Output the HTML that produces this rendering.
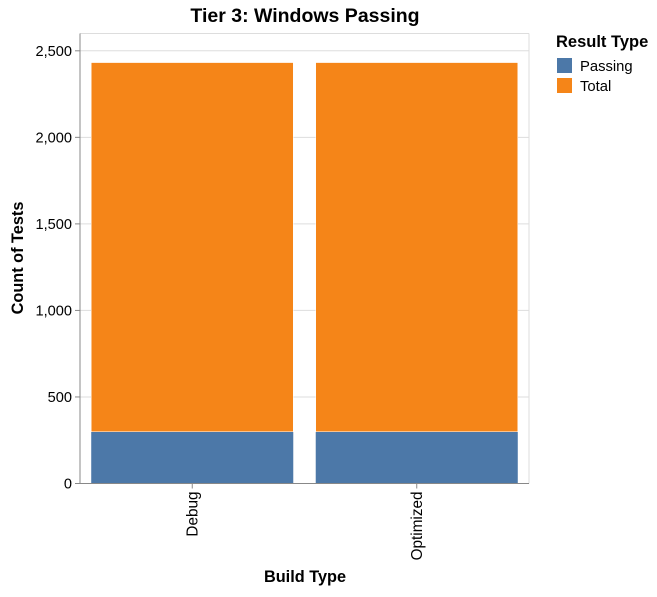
<!DOCTYPE html>
<html><head><meta charset="utf-8"><style>
body{margin:0;background:#fff;font-family:"Liberation Sans",sans-serif;}
text{font-family:"Liberation Sans",sans-serif;}
</style></head><body>
<svg id="chart" width="657" height="592" xmlns="http://www.w3.org/2000/svg">
<rect width="657" height="592" fill="#fff"/>
<text x="305" y="22" text-anchor="middle" font-size="19.5" font-weight="bold">Tier 3: Windows Passing</text>
<g id="grid"></g><g id="bars"></g><g id="axes"></g>
<text x="305" y="582" text-anchor="middle" font-size="16.3" font-weight="bold">Build Type</text>
<text transform="translate(23,258) rotate(-90)" text-anchor="middle" font-size="16.3" font-weight="bold">Count of Tests</text>
<text x="556" y="47" font-size="16.5" font-weight="bold">Result Type</text>
<g><rect x="557" y="58" width="15" height="15" fill="#4c78a8"/><text x="580" y="71" font-size="14.8">Passing</text></g>
<g><rect x="557" y="78" width="15" height="15" fill="#f58518"/><text x="580" y="91" font-size="14.8">Total</text></g>
</svg>
<script>
const categories=["Debug","Optimized"];
const passing=[299,299];
const total=[2133,2133];
const yTicks=[0,500,1000,1500,2000,2500];
const yTickLabels=["0","500","1,000","1,500","2,000","2,500"];
const NS="http://www.w3.org/2000/svg";
const L=80,R=529,T=33.5,B=483.5,YMAX=2600;
const y=v=>B-(v/YMAX)*(B-T);
const band=(R-L)/categories.length;
const x=i=>L+i*band+band*0.05;
const bw=band*0.9;
function mk(tag,attrs,parent){const e=document.createElementNS(NS,tag);for(const k in attrs)e.setAttribute(k,attrs[k]);parent.appendChild(e);return e;}
const grid=document.getElementById('grid'),bars=document.getElementById('bars'),axes=document.getElementById('axes');
mk('line',{x1:L,x2:R,y1:T,y2:T,stroke:'#ddd'},grid);
mk('line',{x1:R,x2:R,y1:T,y2:B,stroke:'#ddd'},grid);
yTicks.forEach((t,i)=>{
  const g=mk('line',{x1:L,x2:R,y1:y(t),y2:y(t),stroke:'#ddd'},grid);
  
  
  mk('line',{x1:L-5,x2:L,y1:y(t),y2:y(t),stroke:'#888'},axes);
  const tx=mk('text',{x:L-8,y:y(t)+5,'text-anchor':'end','font-size':14.6},axes);
  tx.textContent=yTickLabels[i];
  
  
});
categories.forEach((c,i)=>{
  const p=mk('rect',{x:x(i),y:y(passing[i]),width:bw,height:y(0)-y(passing[i]),fill:'#4c78a8'},bars);
  
  
  const top=passing[i]+total[i];
  const o=mk('rect',{x:x(i),y:y(top),width:bw,height:y(passing[i])-y(top),fill:'#f58518',stroke:'#fff','stroke-width':0.5},bars);
  
  
  const cx=L+i*band+band/2;
  mk('line',{x1:cx,x2:cx,y1:B,y2:B+5,stroke:'#888'},axes);
  const t=mk('text',{transform:`translate(${cx+5},${B+8}) rotate(-90)`,'text-anchor':'end','font-size':15.3},axes);
  t.textContent=c;
  
  
});
mk('line',{x1:L,x2:L,y1:T,y2:B,stroke:'#888'},axes);
mk('line',{x1:L,x2:R,y1:B,y2:B,stroke:'#888'},axes);
</script>
</body></html>
